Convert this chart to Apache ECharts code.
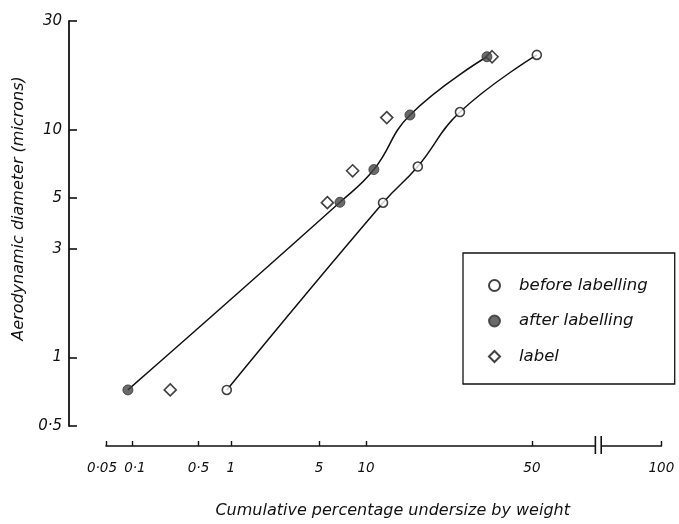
<!DOCTYPE html>
<html>
<head>
<meta charset="utf-8">
<script src="https://cdn.jsdelivr.net/npm/echarts@6/dist/echarts.min.js"></script>
<style>html,body{margin:0;padding:0;background:#fff}#c{width:679px;height:524px}</style>
</head>
<body>
<div id="c"></div>
<script>
// ---- data (cumulative % undersize, aerodynamic diameter in microns) ----
var beforeX = [0.92, 12.5, 18.9, 28.9, 51.5];
var beforeY = [0.72, 4.78, 6.89, 11.95, 21.3];
var afterX  = [0.09, 6.9, 11.1, 17.3, 36.4];
var afterY  = [0.72, 4.8, 6.68, 11.6, 20.9];
var labelX  = [0.26, 5.7, 8.3, 13.1, 37.9];
var labelY  = [0.72, 4.78, 6.6, 11.3, 20.9];
var xTickLabels = ['0·05', '0·1', '0·5', '1', '5', '10', '50', '100'];
var xTickValues = [0.05, 0.1, 0.5, 1, 5, 10, 50, 100];
var yTickValues = [0.5, 1, 3, 5, 10, 30];
var seriesNames = ['before labelling', 'after labelling', 'label'];

// inverse normal CDF (Acklam) -> probability-paper scale
function probit(p) {
  var a = [-3.969683028665376e+01, 2.209460984245205e+02, -2.759285104469687e+02, 1.383577518672690e+02, -3.066479806614716e+01, 2.506628277459239e+00];
  var b = [-5.447609879822406e+01, 1.615858368580409e+02, -1.556989798598866e+02, 6.680131188771972e+01, -1.328068155288572e+01];
  var c = [-7.784894002430293e-03, -3.223964580411365e-01, -2.400758277161838e+00, -2.549732539343734e+00, 4.374664141464968e+00, 2.938163982698783e+00];
  var d = [7.784695709041462e-03, 3.224671290700398e-01, 2.445134137142996e+00, 3.754408661907416e+00];
  var pl = 0.02425, q, r;
  if (p < pl) { q = Math.sqrt(-2 * Math.log(p)); return (((((c[0]*q+c[1])*q+c[2])*q+c[3])*q+c[4])*q+c[5]) / ((((d[0]*q+d[1])*q+d[2])*q+d[3])*q+1); }
  if (p > 1 - pl) { q = Math.sqrt(-2 * Math.log(1 - p)); return -(((((c[0]*q+c[1])*q+c[2])*q+c[3])*q+c[4])*q+c[5]) / ((((d[0]*q+d[1])*q+d[2])*q+d[3])*q+1); }
  q = p - 0.5; r = q * q;
  return (((((a[0]*r+a[1])*r+a[2])*r+a[3])*r+a[4])*r+a[5])*q / (((((b[0]*r+b[1])*r+b[2])*r+b[3])*r+b[4])*r+1);
}
var X_MAX = 1.0; // position of the "100" end of the broken axis (probit units)
function zOf(pct) { return pct >= 100 ? X_MAX : probit(pct / 100); }
function pts(xs, ys) { return xs.map(function (x, i) { return [zOf(x), ys[i]]; }); }
var xTickZ = xTickValues.map(zOf);
var X_MIN = zOf(0.05);
var BREAK = [0.49, 0.535];

var FONT = 'DejaVu Sans';
var txt = { fontFamily: FONT, fontStyle: 'italic', color: '#111' };
var tickTxt = Object.assign({}, txt, { fontSize: 13.5 });

var chart = echarts.init(document.getElementById('c'), null, { renderer: 'canvas' });
var option = {
  backgroundColor: '#fff',
  animation: false,
  grid: { left: 106, right: 679 - 661.4, top: 21, bottom: 94, containLabel: false },
  legend: {
    orient: 'vertical', left: 463, top: 253,
    padding: [24, 27, 19, 25], itemGap: 18.5, itemWidth: 11, itemHeight: 11,
    borderColor: '#111', borderWidth: 1.3, borderRadius: 0,
    data: [
      { name: seriesNames[0], icon: 'circle' },
      { name: seriesNames[1], icon: 'circle' },
      { name: seriesNames[2], icon: 'diamond' }
    ],
    formatter: function (n) { return '{t|' + n + '}'; },
    textStyle: Object.assign({}, txt, {
      fontSize: 16.5, lineHeight: 15,
      rich: { t: Object.assign({}, txt, { fontSize: 16.5, lineHeight: 15, padding: [0, 0, 0, 14] }) }
    })
  },
  xAxis: {
    type: 'value', min: X_MIN, max: X_MAX, offset: 20,
    name: 'Cumulative percentage undersize by weight', nameLocation: 'middle', nameGap: 57,
    nameTextStyle: Object.assign({}, txt, { fontSize: 16, padding: [0, 0, 0, 18] }),
    axisLine: { show: true, onZero: false, lineStyle: { color: '#111', width: 1.6 } },
    axisTick: { show: true, inside: true, length: 5, customValues: xTickZ, lineStyle: { color: '#111', width: 1.4 } },
    axisLabel: {
      customValues: xTickZ, margin: 15, showMinLabel: true, showMaxLabel: true, hideOverlap: false,
      fontFamily: FONT, fontStyle: 'italic', color: '#111', fontSize: 13.5,
      formatter: function (v) {
        var best = 0, bd = Infinity;
        xTickZ.forEach(function (z, i) { var d = Math.abs(z - v); if (d < bd) { bd = d; best = i; } });
        var s = xTickLabels[best];
        if (best === 0) return '{l|' + s + '}';
        if (best === 1) return '{r|' + s + '}';
        return '{n|' + s + '}';
      },
      rich: {
        l: Object.assign({}, tickTxt, { padding: [0, 8, 0, 0] }),
        r: Object.assign({}, tickTxt, { padding: [0, 0, 0, 6] }),
        n: tickTxt
      }
    },
    splitLine: { show: false }
  },
  yAxis: {
    type: 'log', logBase: 10, min: 0.5, max: 30, offset: 37,
    name: 'Aerodynamic diameter (microns)', nameLocation: 'middle', nameGap: 36, nameRotate: 90,
    nameTextStyle: Object.assign({}, txt, { fontSize: 16, padding: [0, 0, 0, 30] }),
    axisLine: { show: true, onZero: false, lineStyle: { color: '#111', width: 1.8 } },
    axisTick: { show: true, inside: true, length: 8, customValues: yTickValues, lineStyle: { color: '#111', width: 1.6 } },
    axisLabel: {
      customValues: yTickValues, margin: 7, showMinLabel: true, showMaxLabel: true, hideOverlap: false,
      fontFamily: FONT, fontStyle: 'italic', color: '#111', fontSize: 15,
      formatter: function (v) { return String(+v.toPrecision(3)).replace('.', '·'); }
    },
    splitLine: { show: false }, minorTick: { show: false }
  },
  series: [
    { name: 'before curve', type: 'line', data: pts(beforeX, beforeY), smooth: 0.45, showSymbol: false, symbol: 'none',
      lineStyle: { color: '#111', width: 1.5 }, z: 2, silent: true },
    { name: 'after curve', type: 'line', data: pts(afterX, afterY), smooth: 0.45, showSymbol: false, symbol: 'none',
      lineStyle: { color: '#111', width: 1.5 }, z: 2, silent: true },
    { name: seriesNames[0], type: 'scatter', data: pts(beforeX, beforeY), symbol: 'circle', symbolSize: 9,
      itemStyle: { color: '#fff', borderColor: '#111', borderWidth: 1.6 }, z: 5 },
    { name: seriesNames[1], type: 'scatter', data: pts(afterX, afterY), symbol: 'circle', symbolSize: 10,
      itemStyle: { color: '#454545', borderColor: '#333', borderWidth: 1 }, z: 5 },
    { name: seriesNames[2], type: 'scatter', data: pts(labelX, labelY), symbol: 'diamond', symbolSize: [12, 12],
      itemStyle: { color: '#fff', borderColor: '#111', borderWidth: 1.6 }, z: 4 }
  ]
};
chart.setOption(option);

// axis break marks ("||") on the x axis, positioned through the axis scale
var bx1 = chart.convertToPixel({ xAxisIndex: 0 }, BREAK[0]);
var bx2 = chart.convertToPixel({ xAxisIndex: 0 }, BREAK[1]);
var ay = chart.convertToPixel({ yAxisIndex: 0 }, 0.5) + 20;
chart.setOption({
  graphic: [
    { type: 'rect', shape: { x: bx1, y: ay - 3, width: bx2 - bx1, height: 6 }, style: { fill: '#fff' }, z: 100 },
    { type: 'line', shape: { x1: bx1, y1: ay - 10, x2: bx1, y2: ay + 8 }, style: { stroke: '#111', lineWidth: 1.6 }, z: 101 },
    { type: 'line', shape: { x1: bx2, y1: ay - 10, x2: bx2, y2: ay + 8 }, style: { stroke: '#111', lineWidth: 1.6 }, z: 101 }
  ]
});
</script>
</body>
</html>
